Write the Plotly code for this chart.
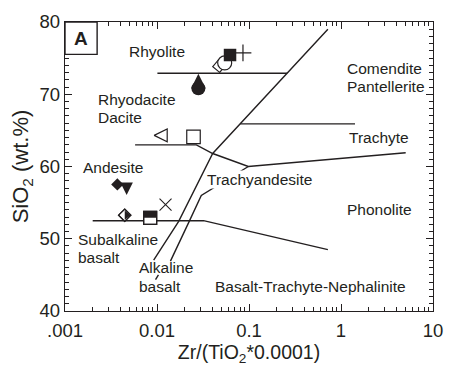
import numpy as np
import plotly.graph_objects as go

INK = "#231f20"
FONT = "Liberation Sans, Arial, Helvetica, sans-serif"

# --- classification field boundaries: (Zr/TiO2*0.0001, SiO2 wt.%) vertices ---
rhyolite_x = [0.0101, 0.26]
rhyolite_y = [72.9, 72.9]

main_div_x = [0.72, 0.26, 0.0804, 0.0403, 0.0172, 0.0092]
main_div_y = [79.0, 72.9, 65.9, 61.8, 52.4, 47.05]

trachyte_x = [0.0804, 1.42]
trachyte_y = [65.9, 65.9]

dacite_x = [0.00578, 0.0268, 0.0403, 0.0983, 5.05]
dacite_y = [63.0, 63.0, 61.8, 60.0, 61.9]

alk_div_x = [0.0983, 0.0303, 0.0224, 0.0140]
alk_div_y = [60.0, 56.0, 52.4, 46.9]

basalt_x = [0.0020, 0.0321, 0.72]
basalt_y = [52.5, 52.5, 48.5]

pointer_x = [0.01037, 0.00964]
pointer_y = [45.0, 44.35]

boundaries = [
    (rhyolite_x, rhyolite_y), (main_div_x, main_div_y), (trachyte_x, trachyte_y),
    (dacite_x, dacite_y), (alk_div_x, alk_div_y), (basalt_x, basalt_y),
    (pointer_x, pointer_y),
]

# --- sample compositions ---
sq_fill_x, sq_fill_y = [0.0622], [75.43]
plus_x, plus_y = [0.0860], [75.73]
circ_open_x, circ_open_y = [0.0544], [74.33]
tilt_sq_x, tilt_sq_y = [0.0473], [73.9]
drop_x, drop_y = [0.02817], [70.82]
tri_left_x, tri_left_y = [0.01097], [64.31]
sq_open_x, sq_open_y = [0.02493], [64.09]
dia_fill_x, dia_fill_y = [0.003707], [57.52]
tri_down_x, tri_down_y = [0.004677], [56.91]
half_dia_x, half_dia_y = [0.00446], [53.26]
half_sq_x, half_sq_y = [0.00843], [52.9]
cross_x, cross_y = [0.01238], [54.71]

# --- field names: (text, x, y, anchor) ---
field_labels = [
    ("Rhyolite", 0.00988, 75.97, "center"),
    ("Rhyodacite", 0.002164, 69.29, "left"),
    ("Dacite", 0.002164, 66.81, "left"),
    ("Andesite", 0.001502, 59.93, "left"),
    ("Subalkaline", 0.001307, 49.86, "left"),
    ("basalt", 0.001307, 47.36, "left"),
    ("Alkaline", 0.006069, 46.0, "left"),
    ("basalt", 0.006069, 43.39, "left"),
    ("Basalt-Trachyte-Nephalinite", 0.0406, 43.39, "left"),
    ("Trachyte", 1.172, 63.96, "left"),
    ("Phonolite", 1.108, 54.06, "left"),
    ("Comendite", 1.108, 73.59, "left"),
    ("Pantellerite", 1.108, 71.09, "left"),
]
trachyandesite_label = ("Trachyandesite", 0.03423, 58.21)

x_ticks = [0.001, 0.01, 0.1, 1, 10]
x_tick_text = [".001", "0.01", "0.1", "1", "10"]
x_minor = [k * 10.0 ** e for e in range(-3, 1) for k in range(2, 10)]

fig = go.Figure()

for bx, by in boundaries:
    fig.add_trace(go.Scatter(x=bx, y=by, mode="lines",
                             line=dict(color=INK, width=1.4),
                             hoverinfo="skip", showlegend=False))


def pts(x, y, symbol, size, color=INK, lw=1.2, angle=0, standoff=0, fill=None):
    fig.add_trace(go.Scatter(
        x=x, y=y, mode="markers", showlegend=False,
        marker=dict(symbol=symbol, size=size, color=fill if fill else color,
                    angle=angle, standoff=standoff,
                    line=dict(color=color, width=lw))))


# open circle and tilted square sit beneath the filled square
pts(tilt_sq_x, tilt_sq_y, "square", 9, fill="white", angle=40)
pts(circ_open_x, circ_open_y, "circle", 14, fill="white")
pts(sq_fill_x, sq_fill_y, "square", 12.5, lw=0)
pts(plus_x, plus_y, "cross-thin-open", 12, lw=1.2)

# teardrop: round body plus a tapering point above it
pts(drop_x, drop_y, "circle", 14, lw=0)
pts(drop_x, drop_y, "arrow-down", 14.5, lw=0, angle=180, standoff=14.5)

pts(tri_left_x, tri_left_y, "arrow-down-open", 13, angle=90, standoff=6.5)
pts(sq_open_x, sq_open_y, "square-open", 13.5)

pts(dia_fill_x, dia_fill_y, "diamond", 9.5, lw=0)
pts(tri_down_x, tri_down_y, "arrow-down", 12.5, lw=0, standoff=6.25)

# half-filled diamond: white body with the right half in black
pts(half_dia_x, half_dia_y, "diamond", 9.5, fill="white")
pts(half_dia_x, half_dia_y, "triangle-down", 8, lw=0, angle=-90, standoff=2)
pts(half_dia_x, half_dia_y, "diamond-open", 9.5)

# half-filled square: white body with the upper half in black
pts(half_sq_x, half_sq_y, "square", 13, fill="white")
pts(half_sq_x, half_sq_y, "line-ew-open", 9.2, lw=6.3, angle=180, standoff=3.2)
pts(half_sq_x, half_sq_y, "square-open", 13)

pts(cross_x, cross_y, "x-thin-open", 12, lw=1.1)

annotations = []
for text, x, y, anc in field_labels:
    annotations.append(dict(x=np.log10(x), y=y, xref="x", yref="y", text=text,
                            showarrow=False, xanchor=anc, yanchor="middle",
                            font=dict(family=FONT, size=15.5, color=INK)))
t, x, y = trachyandesite_label
annotations.append(dict(x=np.log10(x), y=y, xref="x", yref="y", text=t,
                        showarrow=False, xanchor="left", yanchor="middle",
                        bgcolor="white", borderpad=0,
                        font=dict(family=FONT, size=15.5, color=INK)))
annotations.append(dict(x=0.0437, y=0.944, xref="paper", yref="paper", text="<b>A</b>",
                        showarrow=False, xanchor="center", yanchor="middle",
                        font=dict(family=FONT, size=19, color=INK)))

axis_common = dict(showline=True, linecolor=INK, linewidth=1.4, mirror="allticks",
                   ticks="inside", ticklen=7, tickwidth=1.2, tickcolor=INK,
                   showgrid=False, zeroline=False,
                   tickfont=dict(family=FONT, size=18.5, color=INK))

fig.update_layout(
    width=454, height=370,
    margin=dict(l=65, r=11, t=16, b=59),
    paper_bgcolor="white", plot_bgcolor="white",
    xaxis=dict(type="log", range=[-3, 1], tickmode="array",
               tickvals=x_ticks, ticktext=x_tick_text, ticklabelstandoff=3,
               minor=dict(tickmode="array", tickvals=x_minor, ticks="inside",
                          ticklen=4, tickwidth=1, tickcolor=INK, showgrid=False),
               title=dict(text="Zr/(TiO<sub>2</sub>*0.0001)",
                          font=dict(family=FONT, size=19.5, color=INK), standoff=4),
               **axis_common),
    yaxis=dict(range=[40, 80], dtick=10, tick0=40,
               minor=dict(dtick=1, ticks="inside", ticklen=4, tickwidth=1,
                          tickcolor=INK, showgrid=False),
               title=dict(text="SiO<sub>2</sub> (wt.%)",
                          font=dict(family=FONT, size=22, color=INK), standoff=4),
               **axis_common),
    shapes=[dict(type="rect", xref="paper", yref="paper", x0=0, x1=0.0873,
                 y0=0.888, y1=1, line=dict(color=INK, width=1.4),
                 fillcolor="white", layer="above")],
    annotations=annotations,
    font=dict(family=FONT, color=INK),
)

fig.write_html("out.html")
